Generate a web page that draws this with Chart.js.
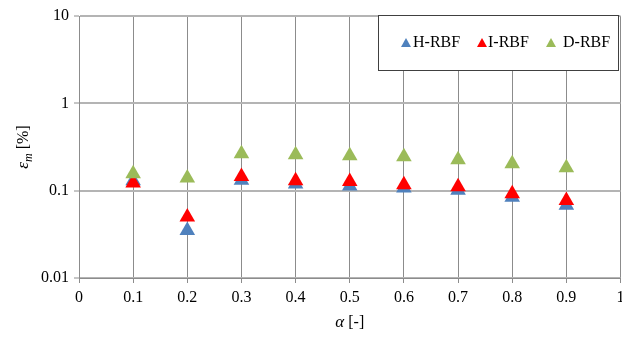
<!DOCTYPE html>
<html lang="en">
<head>
<meta charset="UTF-8">
<title>Error vs alpha</title>
<script src="https://cdn.jsdelivr.net/npm/chart.js"></script>
<style>
  html, body { margin: 0; padding: 0; background: #fff; }
  #wrap { width: 622px; height: 338px; }
</style>
</head>
<body>
<div id="wrap"><canvas id="errChart" width="622" height="338"></canvas></div>
<script>
// data
const alphas = [0.1, 0.2, 0.3, 0.4, 0.5, 0.6, 0.7, 0.8, 0.9];
const hRbf = [0.13, 0.035, 0.132, 0.119, 0.113, 0.107, 0.101, 0.084, 0.068];
const iRbf = [0.122, 0.050, 0.145, 0.130, 0.127, 0.117, 0.111, 0.092, 0.077];
const dRbf = [0.156, 0.140, 0.265, 0.258, 0.251, 0.245, 0.226, 0.203, 0.183];
const yTicks = [0.01, 0.1, 1, 10];
const seriesNames = ['H-RBF', 'I-RBF', 'D-RBF'];
const seriesColors = ['#4f81bd', '#ff0000', '#9bbb59'];

const FONT = '"Liberation Serif", "Times New Roman", serif';

function toPoints(vals) {
    return alphas.map((a, i) => ({ x: a, y: vals[i] }));
}

// legend box drawn inside the plot, top right, plus the axis titles
const extras = {
    id: 'extras',
    afterDraw(chart) {
        const ctx = chart.ctx;
        const area = chart.chartArea;
        ctx.save();

        // y title: epsilon_m [%], rotated
        ctx.translate(24, (area.top + area.bottom) / 2);
        ctx.rotate(-Math.PI / 2);
        ctx.fillStyle = '#000';
        ctx.textBaseline = 'middle';
        ctx.font = 'italic 17px ' + FONT;
        const w1 = ctx.measureText('ε').width;
        ctx.font = 'italic 12px ' + FONT;
        const w2 = ctx.measureText('m').width;
        ctx.font = '16px ' + FONT;
        const w3 = ctx.measureText(' [%]').width;
        let x0 = -(w1 + w2 + w3) / 2;
        ctx.font = 'italic 17px ' + FONT;
        ctx.textAlign = 'left';
        ctx.fillText('ε', x0, 0);
        ctx.font = 'italic 12px ' + FONT;
        ctx.fillText('m', x0 + w1, 5);
        ctx.font = '16px ' + FONT;
        ctx.fillText(' [%]', x0 + w1 + w2, 0);
        ctx.restore();

        // x title: alpha [-]
        ctx.save();
        ctx.fillStyle = '#000';
        ctx.textBaseline = 'middle';
        ctx.textAlign = 'left';
        ctx.font = 'italic 17px ' + FONT;
        const a1 = ctx.measureText('α').width;
        ctx.font = '16px ' + FONT;
        const a2 = ctx.measureText(' [-]').width;
        const cx = (area.left + area.right) / 2 - (a1 + a2) / 2;
        ctx.font = 'italic 17px ' + FONT;
        ctx.fillText('α', cx, 323);
        ctx.font = '16px ' + FONT;
        ctx.fillText(' [-]', cx + a1, 323);
        ctx.restore();

        // legend box
        ctx.save();
        const bx = 378.5, by = 15.5, bw = 240, bh = 55;
        ctx.fillStyle = '#fff';
        ctx.fillRect(bx, by, bw, bh);
        ctx.strokeStyle = '#404040';
        ctx.lineWidth = 1;
        ctx.strokeRect(bx, by, bw, bh);
        const itemX = [406, 482, 551];
        const textX = [413, 488, 563];
        const ly = 43;
        ctx.font = '16px ' + FONT;
        ctx.textBaseline = 'middle';
        ctx.textAlign = 'left';
        chart.data.datasets.forEach((ds, i) => {
            const mx = itemX[i];
            ctx.fillStyle = ds.backgroundColor;
            ctx.beginPath();
            ctx.moveTo(mx, ly - 5);
            ctx.lineTo(mx + 5, ly + 4);
            ctx.lineTo(mx - 5, ly + 4);
            ctx.closePath();
            ctx.fill();
            ctx.fillStyle = '#000';
            ctx.fillText(ds.label, textX[i], ly);
        });
        ctx.restore();
    }
};

const ctx = document.getElementById('errChart').getContext('2d');
new Chart(ctx, {
    type: 'scatter',
    data: {
        datasets: [
            { label: seriesNames[0], data: toPoints(hRbf), backgroundColor: seriesColors[0], borderColor: seriesColors[0], order: 3 },
            { label: seriesNames[1], data: toPoints(iRbf), backgroundColor: seriesColors[1], borderColor: seriesColors[1], order: 2 },
            { label: seriesNames[2], data: toPoints(dRbf), backgroundColor: seriesColors[2], borderColor: seriesColors[2], order: 1 }
        ].map(d => Object.assign(d, { pointStyle: 'triangle', pointRadius: 9, borderWidth: 0, showLine: false }))
    },
    options: {
        responsive: false,
        animation: false,
        layout: { autoPadding: false, padding: { top: 16, right: 0, bottom: 0, left: 0 } },
        plugins: {
            legend: { display: false },
            tooltip: { enabled: false }
        },
        scales: {
            x: {
                type: 'linear',
                min: 0,
                max: 1,
                afterFit(scale) {
                    scale.height = 60;
                    scale.paddingRight = 1.5;
                },
                ticks: {
                    stepSize: 0.1,
                    color: '#000',
                    font: { family: FONT, size: 16 },
                    padding: 5,
                    maxRotation: 0,
                    callback: v => Math.round(v * 10) / 10
                },
                grid: {
                    color: '#8c8c8c',
                    lineWidth: 1,
                    tickLength: 5,
                    drawTicks: true
                },
                border: { color: '#8c8c8c' }
            },
            y: {
                type: 'logarithmic',
                min: 0.01,
                max: 10,
                afterFit(scale) {
                    scale.width = 79;
                },
                afterBuildTicks(scale) {
                    scale.ticks = yTicks.map(v => ({ value: v }));
                },
                ticks: {
                    color: '#000',
                    font: { family: FONT, size: 16 },
                    padding: 5,
                    callback: v => String(v)
                },
                grid: {
                    color: '#b4b4b4',
                    lineWidth: 2,
                    tickLength: 5,
                    tickColor: '#8c8c8c',
                    tickWidth: 1
                },
                border: { color: '#8c8c8c' }
            }
        }
    },
    plugins: [extras]
});
</script>
</body>
</html>
